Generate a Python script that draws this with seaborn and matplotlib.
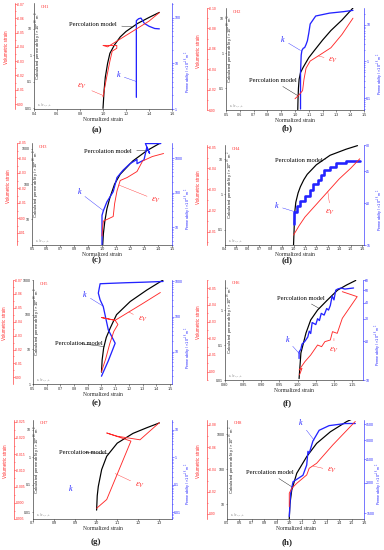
import matplotlib
matplotlib.use("Agg")
import matplotlib.pyplot as plt
import matplotlib.ticker as mticker
import seaborn as sns

sns.set_style("ticks")
plt.rcParams['font.family'] = ['Liberation Sans', 'DejaVu Sans']
plt.rcParams['mathtext.fontset'] = 'stix'

RED = '#ff2a2a'
BLUE = '#2323ff'
SERIF = 'Liberation Serif'
W, H = 384, 550

# ---------------- data ----------------
# (a) CH1
a_perc_x = [1.00, 1.01, 1.02, 1.04, 1.06, 1.10, 1.15, 1.20, 1.30, 1.40, 1.49]
a_perc_y = [0.01, 0.05, 0.15, 0.5, 1.2, 2.5, 5, 8, 16, 27, 42]
a_ev_x = [1.00, 1.03, 1.06, 1.08, 1.12, 1.12, 1.00, 1.04, 1.10, 1.20, 1.30, 1.40, 1.49]
a_ev_y = [-0.005, -0.018, -0.030, -0.037, -0.039, -0.041, -0.041, -0.040, -0.043, -0.048, -0.053, -0.058, -0.064]
a_k_x = [1.29, 1.29, 1.29, 1.31, 1.33, 1.36, 1.40, 1.45, 1.49]
a_k_y = [1.8, 30, 86, 95, 98, 75, 65, 58, 57]

# (b) CH2
b_perc_x = [1.020, 1.022, 1.025, 1.03, 1.04, 1.06, 1.10, 1.14, 1.20, 1.26, 1.34, 1.42]
b_perc_y = [0.024, 0.05, 0.1, 0.18, 0.28, 0.4, 0.75, 1.2, 2.4, 4.5, 9, 20]
b_ev_x = [1.00, 1.03, 1.055, 1.065, 1.08, 1.11, 1.18, 1.26, 1.34, 1.42]
b_ev_y = [-0.011, -0.015, -0.019, -0.030, -0.041, -0.048, -0.054, -0.061, -0.074, -0.090]
b_k_x = [1.04, 1.04, 1.045, 1.05, 1.06, 1.07, 1.08, 1.09, 1.10, 1.11, 1.15, 1.25, 1.35, 1.42]
b_k_y = [0.05, 0.5, 1.5, 2.0, 2.3, 2.4, 2.9, 3.7, 6.0, 10.6, 17.5, 21, 23, 25]

# (c) CH3
c_perc_x = [1.005, 1.01, 1.02, 1.035, 1.057, 1.09, 1.13, 1.22, 1.32, 1.41]
c_perc_y = [1.9, 4, 8.8, 20, 42, 100, 190, 450, 880, 1400]
c_ev_x = [1.00, 1.005, 1.01, 1.035, 1.08, 1.09, 1.107, 1.13, 1.18, 1.25, 1.29, 1.36, 1.44]
c_ev_y = [0.012, 0.006, 0.002, 0.001, -0.001, -0.0095, -0.018, -0.025, -0.027, -0.031, -0.038, -0.041, -0.043]
c_k_x = [1.00, 1.00, 1.01, 1.035, 1.08, 1.107, 1.15, 1.20, 1.25, 1.25, 1.30, 1.32, 1.34, 1.31, 1.38, 1.42]
c_k_y = [3, 22, 30, 54, 107, 276, 450, 700, 930, 700, 900, 2100, 1400, 2700, 2700, 2700]

# (d) CH4
d_perc_x = [1.00, 1.005, 1.01, 1.02, 1.04, 1.06, 1.09, 1.12, 1.20, 1.32, 1.46, 1.56]
d_perc_y = [0.037, 0.1, 0.3, 0.6, 1.1, 1.65, 2.6, 3.7, 6.9, 12.8, 19, 24]
d_ev_x = [1.00, 1.05, 1.10, 1.20, 1.30, 1.40, 1.50, 1.58]
d_ev_y = [-0.0085, -0.013, -0.017, -0.023, -0.029, -0.035, -0.040, -0.0445]
d_k_x = [1.00, 1.00, 1.03, 1.03, 1.06, 1.06, 1.10, 1.10, 1.14, 1.14, 1.17, 1.17, 1.21,
         1.21, 1.24, 1.24, 1.27, 1.27, 1.32, 1.32, 1.37, 1.37, 1.46, 1.46, 1.58]
d_k_y = [17.4, 18.8, 18.8, 19.7, 19.7, 20.3, 20.3, 21.1, 21.1, 22.0, 22.0, 22.9, 22.9,
         23.6, 23.6, 24.4, 24.4, 25.3, 25.3, 25.8, 25.8, 26.5, 26.5, 26.8, 26.8]

# (e) CH5
e_perc_x = [1.00, 1.005, 1.016, 1.035, 1.065, 1.11, 1.21, 1.33, 1.45]
e_perc_y = [2.2, 5, 11, 22, 42, 100, 240, 510, 1000]
e_ev_x = [1.00, 1.03, 1.06, 1.09, 1.12, 1.10, 1.00, 1.05, 1.10, 1.20, 1.30, 1.43]
e_ev_y = [-0.004, -0.013, -0.024, -0.033, -0.038, -0.041, -0.043, -0.042, -0.041, -0.047, -0.053, -0.061]
e_k_x = [1.00, 1.05, 1.10, 1.05, 1.013, 0.99, 0.977, 0.99, 1.05, 1.18, 1.30, 1.45]
e_k_y = [2.0, 5.5, 17.4, 41.6, 193, 300, 465, 860, 880, 920, 950, 1000]

# (f) CH6
f_perc_x = [1.004, 1.009, 1.023, 1.036, 1.055, 1.082, 1.11, 1.135, 1.16]
f_perc_y = [0.011, 0.059, 0.22, 0.52, 1.0, 1.93, 3.7, 5.2, 7.0]
f_ev_x = [1.005, 1.012, 1.004, 1.02, 1.036, 1.055, 1.066, 1.075, 1.09, 1.096, 1.109, 1.123, 1.164, 1.123]
f_ev_y = [0.002, -0.002, -0.001, -0.006, -0.010, -0.016, -0.015, -0.018, -0.019, -0.024, -0.023, -0.032, -0.045, -0.048]
f_k_x = [1.004, 1.004, 1.009, 1.012, 1.02, 1.028, 1.032, 1.036, 1.04, 1.05, 1.055, 1.06,
         1.065, 1.073, 1.08, 1.085, 1.09, 1.095, 1.10, 1.105, 1.11, 1.12, 1.13, 1.154]
f_k_y = [14.7, 16.5, 17.4, 19, 20, 21.6, 24, 23, 28, 27, 30, 29,
         33, 32, 36, 35, 38, 45, 42, 50, 51, 52, 51, 52]

# (g) CH7 (no permeability record)
g_perc_x = [1.002, 1.005, 1.01, 1.026, 1.05, 1.10, 1.175, 1.24, 1.30]
g_perc_y = [0.012, 0.04, 0.087, 0.36, 1.1, 3.3, 7.5, 12, 18]
g_ev_x = [1.002, 1.05, 1.165, 1.05, 1.10, 1.208, 1.30]
g_ev_y = [0.0017, -0.001, -0.019, -0.0215, -0.0205, -0.0194, -0.0247]
g_k_x = []
g_k_y = []

# (h) CH8
h_perc_x = [1.00, 1.005, 1.02, 1.06, 1.14, 1.22, 1.33, 1.46, 1.53]
h_perc_y = [3.8, 10, 25.6, 77, 230, 550, 1180, 2300, 3000]
h_ev_x = [1.00, 1.00, 1.02, 1.06, 1.14, 1.16, 1.22, 1.35, 1.53]
h_ev_y = [-0.0065, -0.0186, -0.023, -0.0275, -0.035, -0.041, -0.0455, -0.062, -0.083]
h_k_x = [1.00, 1.01, 1.03, 1.11, 1.14, 1.15, 1.16, 1.19, 1.24, 1.32, 1.45, 1.53]
h_k_y = [1450, 1797, 2020, 2150, 2370, 2700, 2650, 2980, 3300, 3450, 3520, 3520]

names = ['CH1', 'CH2', 'CH3', 'CH4', 'CH5', 'CH6', 'CH7', 'CH8']
letters = ['(a)', '(b)', '(c)', '(d)', '(e)', '(f)', '(g)', '(h)']

# ---------------- panel settings ----------------
panels = [
    dict(box=(34, 3, 172, 109), redx=15, lab=(97, 130),
         xlim=(0.4, 1.6), xticks=[0.4, 0.6, 0.8, 1.0, 1.2, 1.4, 1.6], xfmt='%.1f',
         blim=(0.0095, 95), bticks=[0.01, 0.1, 1, 10],
         rlim=(0.0035, -0.0707), rticks=[0.0, -0.01, -0.02, -0.03, -0.04, -0.05, -0.06, -0.07], rfmt='%.2f',
         klim=(1, 210), kticks=[1, 10, 100],
         perc=(a_perc_x, a_perc_y), ev=(a_ev_x, a_ev_y), k=(a_k_x, a_k_y),
         notes=[('p', 0.43, 0.80, (1.25, 12)), ('k', 0.61, 0.32, (1.29, 4)), ('e', 0.35, 0.21, (1.0, -0.006))]),
    dict(box=(226, 8, 364, 110), redx=207, lab=(287, 128),
         xlim=(0.5, 1.5), xticks=[0.5, 0.6, 0.7, 0.8, 0.9, 1.0, 1.1, 1.2, 1.3, 1.4, 1.5], xfmt='%.1f',
         blim=(0.0235, 20), bticks=[0.1, 1, 10],
         rlim=(0.0, -0.1), rticks=[0.0, -0.02, -0.04, -0.06, -0.08, -0.10], rfmt='%.2f',
         klim=(0.047, 29), kticks=[0.1, 1, 10],
         perc=(b_perc_x, b_perc_y), ev=(b_ev_x, b_ev_y), k=(b_k_x, b_k_y),
         notes=[('k', 0.41, 0.69, (1.04, 2.0)), ('p', 0.34, 0.29, (1.022, 0.06)), ('e', 0.78, 0.49, (1.17, -0.053))]),
    dict(box=(32, 143, 172, 245), redx=17, lab=(97, 260),
         xlim=(0.5, 1.5), xticks=[0.5, 0.6, 0.7, 0.8, 0.9, 1.0, 1.1, 1.2, 1.3, 1.4, 1.5], xfmt='%.1f',
         blim=(1.9, 1450), bticks=[10, 100, 1000],
         rlim=(0.018, -0.05), rticks=[0.01, 0.0, -0.01, -0.02, -0.03, -0.04, -0.05], rfmt='%.2f',
         klim=(3, 2800), kticks=[10, 100, 1000],
         perc=(c_perc_x, c_perc_y), ev=(c_ev_x, c_ev_y), k=(c_k_x, c_k_y),
         notes=[('p', 0.545, 0.92, (1.33, 900)), ('k', 0.336, 0.52, (1.01, 30)), ('e', 0.89, 0.44, (1.12, -0.022))]),
    dict(box=(225, 145, 364, 245), redx=207, lab=(287, 260),
         xlim=(0.4, 1.617), xticks=[0.4, 0.5, 0.6, 0.7, 0.8, 0.9, 1.0, 1.1, 1.2, 1.3, 1.4, 1.5, 1.6], xfmt='%.1f',
         blim=(0.037, 25), bticks=[0.1, 1, 10],
         rlim=(-0.0038, -0.051), rticks=[-0.01, -0.02, -0.03, -0.04, -0.05], rfmt='%.2f',
         klim=(15, 30), kticks=[15, 20, 25, 30],
         perc=(d_perc_x, d_perc_y), ev=(d_ev_x, d_ev_y), k=(d_k_x, d_k_y),
         notes=[('p', 0.53, 0.85, (1.28, 10)), ('k', 0.37, 0.39, (1.03, 18.8)), ('e', 0.76, 0.33, (1.3, -0.029))]),
    dict(box=(33, 280, 172, 384), redx=13, lab=(97, 403),
         xlim=(0.5, 1.515), xticks=[0.5, 0.6, 0.7, 0.8, 0.9, 1.0, 1.1, 1.2, 1.3, 1.4, 1.5], xfmt='%.1f',
         blim=(1, 1000), bticks=[1, 10, 100, 1000],
         rlim=(0.0048, -0.07), rticks=[0.0, -0.01, -0.02, -0.03, -0.04, -0.05, -0.06, -0.07], rfmt='%.2f',
         klim=(1.2, 1100), kticks=[10, 100, 1000],
         perc=(e_perc_x, e_perc_y), ev=(e_ev_x, e_ev_y), k=(e_k_x, e_k_y),
         notes=[('k', 0.37, 0.86, (1.01, 200)), ('p', 0.33, 0.39, (1.02, 12)), ('e', 0.79, 0.62, (1.2, -0.047))]),
    dict(box=(225, 280, 363, 380), redx=207, lab=(287, 403),
         xlim=(0.8, 1.18), xticks=[0.80, 0.85, 0.90, 0.95, 1.00, 1.05, 1.10, 1.15], xfmt='%.2f',
         blim=(0.01, 7.2), bticks=[0.01, 0.1, 1],
         rlim=(0.005, -0.055), rticks=[0.0, -0.01, -0.02, -0.03, -0.04, -0.05], rfmt='%.2f',
         klim=(10, 60), kticks=[10, 20, 30, 40, 50, 60],
         perc=(f_perc_x, f_perc_y), ev=(f_ev_x, f_ev_y), k=(f_k_x, f_k_y),
         notes=[('p', 0.55, 0.82, (1.06, 1.1)), ('k', 0.45, 0.40, (1.005, 16)), ('e', 0.79, 0.30, (1.1, -0.02))]),
    dict(box=(33, 420, 172, 519), redx=14, lab=(96, 542),
         xlim=(0.7, 1.36), xticks=[0.7, 0.8, 0.9, 1.0, 1.1, 1.2, 1.3], xfmt='%.1f',
         blim=(0.0057, 23), bticks=[0.01, 0.1, 1, 10],
         rlim=(0.005, -0.0255), rticks=[0.005, 0.0, -0.005, -0.010, -0.015, -0.020, -0.025], rfmt='%.3f',
         klim=(0.0057, 23), kticks=[0.01, 0.1, 1, 10],
         perc=(g_perc_x, g_perc_y), ev=(g_ev_x, g_ev_y), k=(g_k_x, g_k_y),
         notes=[('p', 0.36, 0.67, (1.06, 1.4)), ('k', 0.27, 0.30, None), ('e', 0.77, 0.34, (1.09, -0.009))]),
    dict(box=(227, 420, 364, 519), redx=207, lab=(287, 542),
         xlim=(0.5, 1.6), xticks=[0.5, 0.6, 0.7, 0.8, 0.9, 1.0, 1.1, 1.2, 1.3, 1.4, 1.5, 1.6], xfmt='%.1f',
         blim=(3.8, 2560), bticks=[10, 100, 1000],
         rlim=(0.0045, -0.0843), rticks=[0.0, -0.02, -0.04, -0.06, -0.08], rfmt='%.2f',
         klim=(1417, 3640), kticks=[1500, 2000, 2500, 3000, 3500],
         perc=(h_perc_x, h_perc_y), ev=(h_ev_x, h_ev_y), k=(h_k_x, h_k_y),
         notes=[('p', 0.31, 0.47, (1.03, 30)), ('k', 0.54, 0.97, (1.2, 3000)), ('e', 0.77, 0.49, (1.19, -0.043))]),
]

fig = plt.figure(figsize=(W / 72, H / 72), dpi=72)
gfmt = mticker.FuncFormatter(lambda v, p: '%g' % v)

for i, P in enumerate(panels):
    l, t, r, b = P['box']
    ax = fig.add_axes([l / W, 1 - b / H, (r - l) / W, (b - t) / H])
    axk = ax.twinx()
    axr = ax.twinx()

    # curves
    sns.lineplot(x=P['perc'][0], y=P['perc'][1], ax=ax, color='black', lw=1.2, sort=False, estimator=None)
    sns.lineplot(x=P['ev'][0], y=P['ev'][1], ax=axr, color=RED, lw=0.9, sort=False, estimator=None)
    if len(P['k'][0]):
        sns.lineplot(x=P['k'][0], y=P['k'][1], ax=axk, color=BLUE, lw=1.3 if i != 3 else 2.6,
                     sort=False, estimator=None)

    # black (calculated permeability) axis
    ax.set_xlim(P['xlim'])
    ax.set_xticks(P['xticks'])
    ax.xaxis.set_major_formatter(mticker.FormatStrFormatter(P['xfmt']))
    ax.set_yscale('log')
    ax.set_ylim(P['blim'])
    ax.set_yticks(P['bticks'])
    ax.yaxis.set_major_formatter(gfmt)
    ax.yaxis.set_minor_locator(mticker.NullLocator())
    ax.tick_params(labelsize=3.8, length=1.5, width=0.5, pad=1)
    ax.tick_params(axis='y', labelsize=3.5, pad=0.8)
    for s in ['top', 'right']:
        ax.spines[s].set_visible(False)
    for s in ['left', 'bottom']:
        ax.spines[s].set_linewidth(0.6)
    ax.set_xlabel('Normalized strain', fontsize=5.5, family=SERIF, labelpad=1)
    ax.set_ylabel('Calculated permeability / ×10$^{-18}$ m$^2$', fontsize=4.3)
    ax.yaxis.set_label_coords(10.5 / (r - l), 0.6)
    ax.text(0.02, 0.02, r'$\varepsilon_v\,/\,\varepsilon_{v,c,b}$', transform=ax.transAxes,
            fontsize=3.8, color='0.45')
    ax.text(0.05, 0.985, names[i], transform=ax.transAxes, fontsize=4.5, color=RED,
            va='top', family=SERIF)

    # blue (measured permeability) axis
    axk.set_yscale('log')
    axk.set_ylim(P['klim'])
    axk.set_yticks(P['kticks'])
    axk.yaxis.set_major_formatter(gfmt)
    axk.yaxis.set_minor_formatter(mticker.NullFormatter())
    for s in ['top', 'left', 'bottom']:
        axk.spines[s].set_visible(False)
    axk.spines['right'].set_color(BLUE)
    axk.spines['right'].set_linewidth(0.6)
    axk.tick_params(axis='y', which='both', colors=BLUE, labelsize=3.5, length=1.5, width=0.5, pad=0.8)
    axk.tick_params(axis='y', which='minor', length=1)
    axk.set_ylabel('Permeability / ×10$^{-18}$ m$^2$', fontsize=3.8, color=BLUE)
    # label is anchored on its left edge
    axk.yaxis.set_label_coords((min(r + 11, 375) - l) / (r - l), 0.35)

    # red (volumetric strain) axis, shifted left of the black one
    axr.spines['right'].set_position(('axes', (P['redx'] - l) / (r - l)))
    for s in ['top', 'left', 'bottom']:
        axr.spines[s].set_visible(False)
    axr.spines['right'].set_color(RED)
    axr.spines['right'].set_linewidth(0.6)
    axr.set_ylim(P['rlim'])
    axr.set_yticks(P['rticks'])
    axr.yaxis.set_major_formatter(mticker.FormatStrFormatter(P['rfmt']))
    axr.yaxis.set_minor_locator(mticker.AutoMinorLocator(2))
    axr.tick_params(axis='y', which='both', colors=RED, labelsize=3.4, length=1.5, width=0.5, pad=0.6)
    axr.tick_params(axis='y', which='minor', length=1)
    axr.set_ylabel('Volumetric strain', fontsize=4.5, color=RED)
    axr.yaxis.set_label_coords((P['redx'] - 10.5 - l) / (r - l), 0.58)

    # annotations
    for kind, fx, fy, target in P['notes']:
        if kind == 'p':
            tax, txt, col, kw = ax, 'Percolation model', 'black', dict(fontsize=6.5, family=SERIF)
        elif kind == 'k':
            tax, txt, col, kw = axk, 'k', BLUE, dict(fontsize=8, family=SERIF, style='italic')
        else:
            tax, txt, col, kw = axr, r'$\varepsilon_V$', RED, dict(fontsize=9)
        if target is None:
            tax.text(fx, fy, txt, transform=tax.transAxes, color=col, ha='center', va='center', **kw)
        else:
            tax.annotate(txt, xy=target, xycoords='data', xytext=(fx, fy), textcoords='axes fraction',
                         color=col, ha='center', va='center',
                         arrowprops=dict(arrowstyle='-', color=col, lw=0.4, shrinkA=2, shrinkB=0), **kw)

    fig.text(P['lab'][0] / W, 1 - P['lab'][1] / H, letters[i], ha='center', va='center',
             fontsize=9, fontweight='bold', family=SERIF)

fig.savefig('out.png', dpi=72)
